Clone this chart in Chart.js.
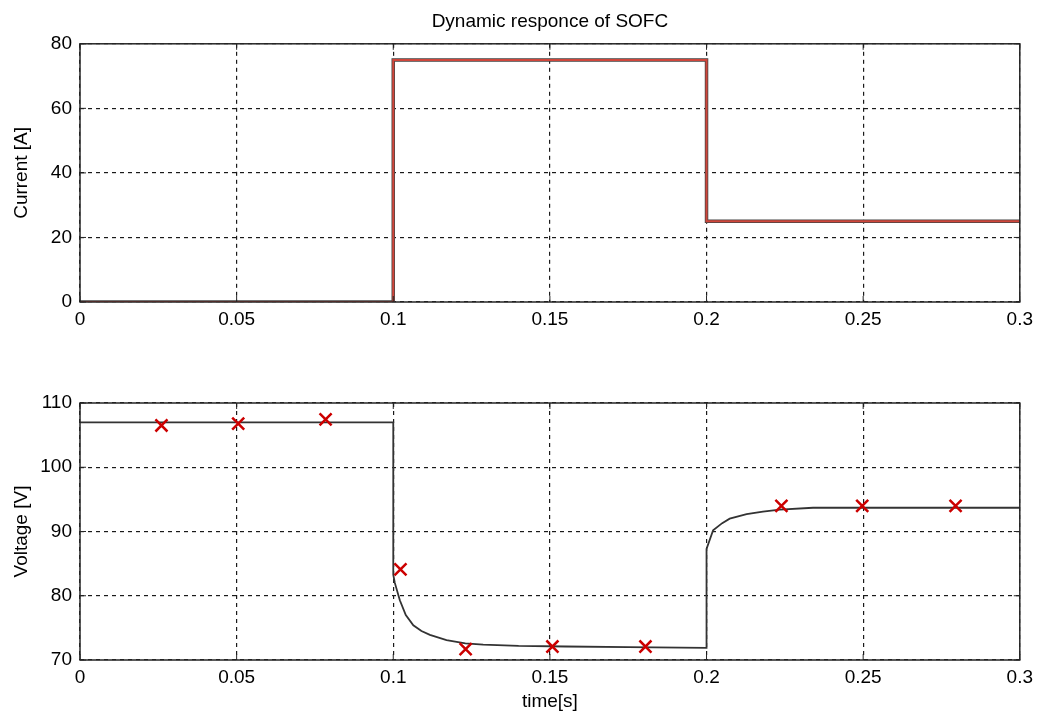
<!DOCTYPE html>
<html>
<head>
<meta charset="utf-8">
<script src="https://cdn.jsdelivr.net/npm/chart.js@4.4.0/dist/chart.umd.min.js"></script>
<style>
  body { margin: 0; background: #fff; }
  #wrap { position: relative; width: 1039px; height: 716px; }
  canvas { position: absolute; left: 0; }
</style>
</head>
<body>
<div id="wrap">
  <canvas id="top" width="1039" height="350" style="top:0"></canvas>
  <canvas id="bottom" width="1039" height="366" style="top:350px"></canvas>
</div>
<script>
// current step (top plot)
const currentTime = [0, 0.1, 0.1, 0.2, 0.2, 0.3];
const currentValue = [0, 0, 75, 75, 25, 25];

// simulated voltage (bottom plot)
const voltageTime = [0, 0.1, 0.1, 0.1005, 0.1021, 0.104, 0.1064, 0.109, 0.1117, 0.117, 0.123, 0.1287, 0.14, 0.155, 0.175, 0.2,
                     0.2, 0.2021, 0.205, 0.2074, 0.2128, 0.218, 0.2234, 0.234, 0.3];
const voltageValue = [107, 107, 83.3, 82, 79.3, 77, 75.4, 74.5, 73.9, 73.1, 72.6, 72.4, 72.2, 72.1, 72.0, 71.9,
                      87.3, 90.2, 91.3, 92.0, 92.7, 93.1, 93.4, 93.7, 93.7];

// measured points (red x)
const measuredTime = [0.026, 0.0505, 0.0784, 0.1023, 0.1231, 0.1508, 0.1805, 0.2239, 0.2497, 0.2795];
const measuredValue = [106.5, 106.8, 107.45, 84.1, 71.7, 72.1, 72.1, 94.0, 94.0, 94.0];

const xTickLabels = ['0', '0.05', '0.1', '0.15', '0.2', '0.25', '0.3'];
const currentTicks = [0, 20, 40, 60, 80];
const voltageTicks = [70, 80, 90, 100, 110];

const FONT = 'Liberation Sans, Arial, sans-serif';

function pts(xs, ys) {
    return xs.map((x, i) => ({ x: x, y: ys[i] }));
}

// solid frame + matlab style inward ticks
const framePlugin = {
    id: 'frame',
    afterDraw(chart) {
        const { ctx, chartArea: a, scales } = chart;
        ctx.save();
        ctx.strokeStyle = '#262626';
        ctx.lineWidth = 1.5;
        ctx.setLineDash([]);
        ctx.strokeRect(a.left, a.top, a.right - a.left, a.bottom - a.top);
        ctx.lineWidth = 1;
        scales.x.ticks.forEach(t => {
            const px = scales.x.getPixelForValue(t.value);
            ctx.beginPath();
            ctx.moveTo(px, a.bottom); ctx.lineTo(px, a.bottom - 6);
            ctx.moveTo(px, a.top); ctx.lineTo(px, a.top + 6);
            ctx.stroke();
        });
        scales.y.ticks.forEach(t => {
            const py = scales.y.getPixelForValue(t.value);
            ctx.beginPath();
            ctx.moveTo(a.left, py); ctx.lineTo(a.left + 6, py);
            ctx.moveTo(a.right, py); ctx.lineTo(a.right - 6, py);
            ctx.stroke();
        });
        ctx.restore();
    }
};

function baseOptions(yTicks, yTitle, xTitle, xHeight) {
    return {
        responsive: false,
        animation: false,
        layout: { padding: { left: 0, right: 19, top: 0, bottom: 0 } },
        plugins: {
            legend: { display: false },
            tooltip: { enabled: false },
            title: { display: false }
        },
        scales: {
            x: {
                type: 'linear',
                min: 0, max: 0.3,
                ticks: {
                    stepSize: 0.05,
                    color: '#000',
                    font: { family: FONT, size: 19 },
                    padding: 6,
                    maxRotation: 0,
                    callback: (v, i) => xTickLabels[i]
                },
                grid: { color: '#1a1a1a', lineWidth: 1.2, drawTicks: false },
                border: { display: false, dash: [4, 4] },
                title: xTitle ? { display: true, text: xTitle, color: '#000', font: { family: FONT, size: 19 }, padding: { top: 0, bottom: 3 } } : { display: false },
                afterFit: s => { s.height = xHeight; }
            },
            y: {
                min: yTicks[0], max: yTicks[yTicks.length - 1],
                ticks: {
                    stepSize: yTicks[1] - yTicks[0],
                    color: '#000',
                    font: { family: FONT, size: 19 },
                    padding: 8
                },
                grid: { color: '#1a1a1a', lineWidth: 1.2, drawTicks: false },
                border: { display: false, dash: [4, 4] },
                title: { display: true, text: yTitle, color: '#000', font: { family: FONT, size: 19 }, padding: { top: 10, bottom: 0 } },
                afterFit: s => { s.width = 80; }
            }
        }
    };
}

const topOpts = baseOptions(currentTicks, 'Current [A]', null, 48);
topOpts.plugins.title = {
    display: true,
    fullSize: false,
    text: 'Dynamic responce of SOFC',
    color: '#000',
    font: { family: FONT, size: 19, weight: 'normal' },
    padding: { top: 10, bottom: 11 }
};

new Chart(document.getElementById('top'), {
    type: 'line',
    data: {
        datasets: [
            {
                data: pts(currentTime, currentValue),
                borderColor: '#d0463b',
                borderWidth: 2,
                pointRadius: 0,
                tension: 0,
                order: 0
            },
            {
                data: pts(currentTime, currentValue),
                borderColor: '#444',
                borderWidth: 3.5,
                pointRadius: 0,
                tension: 0,
                order: 1
            }
        ]
    },
    options: topOpts,
    plugins: [framePlugin]
});

const botOpts = baseOptions(voltageTicks, 'Voltage [V]', 'time[s]', 56);
botOpts.layout.padding.top = 53;

new Chart(document.getElementById('bottom'), {
    type: 'line',
    data: {
        datasets: [
            {
                data: pts(measuredTime, measuredValue),
                showLine: false,
                pointStyle: 'crossRot',
                pointRadius: 8.5,
                pointBorderWidth: 2.5,
                pointBorderColor: '#cc0000',
                borderColor: '#cc0000',
                order: 0
            },
            {
                data: pts(voltageTime, voltageValue),
                borderColor: '#333',
                borderWidth: 1.8,
                pointRadius: 0,
                tension: 0,
                order: 1
            }
        ]
    },
    options: botOpts,
    plugins: [framePlugin]
});
</script>
</body>
</html>
